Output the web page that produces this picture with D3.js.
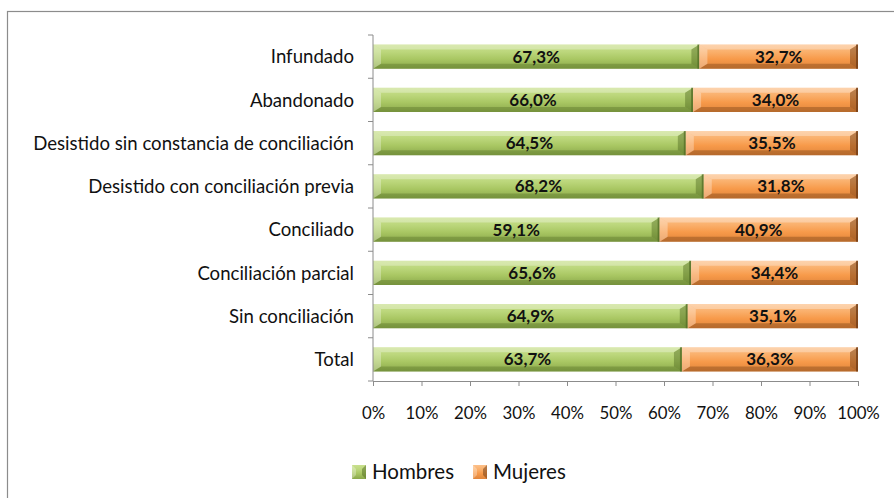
<!DOCTYPE html>
<html>
<head>
<meta charset="utf-8">
<script src="https://cdn.jsdelivr.net/npm/d3@7"></script>
<style>
  body { margin: 0; background: #fff; }
  svg { display: block; font-family: Lato, "Open Sans", sans-serif; }
</style>
</head>
<body>
<div id="chart"></div>
<script>
// data
const categories = ['Infundado', 'Abandonado', 'Desistido sin constancia de conciliación',
  'Desistido con conciliación previa', 'Conciliado', 'Conciliación parcial', 'Sin conciliación', 'Total'];
const hombres = [67.3, 66.0, 64.5, 68.2, 59.1, 65.6, 64.9, 63.7];
const mujeres = [32.7, 34.0, 35.5, 31.8, 40.9, 34.4, 35.1, 36.3];
const seriesNames = ['Hombres', 'Mujeres'];
const xTicks = [0, 10, 20, 30, 40, 50, 60, 70, 80, 90, 100];

let width = 894;
let height = 498;
let plotLeft = 373, plotRight = 858, plotTop = 35, plotBottom = 381;

let svg = d3.select('#chart').append('svg')
  .attr('width', width)
  .attr('height', height);

// gradients for the bevelled look
let defs = svg.append('defs');
function grad(id, stops) {
  let g = defs.append('linearGradient').attr('id', id)
    .attr('x1', 0).attr('y1', 0).attr('x2', 0).attr('y2', 1);
  stops.forEach(s => g.append('stop').attr('offset', s[0]).attr('stop-color', s[1]));
}
grad('gGreen', [[0, '#c9e08e'], [0.3, '#bcd77c'], [0.6, '#a9c763'], [1, '#8aa84a']]);
grad('gOrange', [[0, '#fcc08a'], [0.3, '#fab06c'], [0.6, '#f79a4a'], [1, '#e0843a']]);

// outer border, cut by the window on right and bottom
svg.append('rect')
  .attr('x', 7.5).attr('y', 11.5)
  .attr('width', 1000).attr('height', 1000)
  .attr('fill', 'none').attr('stroke', '#8c8c8c').attr('stroke-width', 1.2);

let x = d3.scaleLinear().domain([0, 100]).range([plotLeft, plotRight]);
let y = d3.scaleBand().domain(categories).range([plotTop, plotBottom]).paddingInner(0.44).paddingOuter(0.22);
let yb = d3.scaleBand().domain(categories).range([plotTop, plotBottom]);

// bars
let rows = categories.map((c, i) => ({ cat: c, segs: [
  { name: seriesNames[0], x0: 0, x1: hombres[i], fill: 'url(#gGreen)', dark: '#4f6a22' },
  { name: seriesNames[1], x0: hombres[i], x1: hombres[i] + mujeres[i], fill: 'url(#gOrange)', dark: '#6b3812' }
]}));

let row = svg.selectAll('.row').data(rows).join('g')
  .attr('class', 'row')
  .attr('transform', d => `translate(0,${y(d.cat)})`);

let seg = row.selectAll('.seg').data(d => d.segs).join('g').attr('class', 'seg')
  .attr('transform', d => `translate(${x(d.x0)},0)`);
let bh = y.bandwidth();
let bv = 5, bhz = 8;

seg.append('rect')
  .attr('x', 0).attr('y', 0)
  .attr('width', d => x(d.x1) - x(d.x0)).attr('height', bh)
  .attr('fill', d => d.fill);

// bevel facets
function facet(fn, fill, op) {
  seg.append('path')
    .attr('d', d => fn(x(d.x1) - x(d.x0)))
    .attr('fill', typeof fill === 'function' ? fill : () => fill)
    .attr('opacity', op);
}
facet(w => `M0,0 L${w},0 L${w - bhz},${bv} L${bhz},${bv} Z`, '#ffffff', 0.3);
facet(w => `M0,${bh} L${w},${bh} L${w - bhz},${bh - bv} L${bhz},${bh - bv} Z`, d => d.dark, 0.35);
facet(w => `M0,0 L${bhz},${bv} L${bhz},${bh - bv} L0,${bh} Z`, '#ffffff', 0.3);
facet(w => `M${w},0 L${w - bhz},${bv} L${w - bhz},${bh - bv} L${w},${bh} Z`, d => d.dark, 0.45);
seg.append('rect')
  .attr('x', d => x(d.x1) - x(d.x0) - 2).attr('y', 0)
  .attr('width', 2).attr('height', bh)
  .attr('fill', d => d.dark).attr('opacity', 0.7);

seg.append('text')
  .attr('x', d => (x(d.x1) - x(d.x0)) / 2)
  .attr('y', bh / 2)
  .attr('dy', '0.36em')
  .attr('text-anchor', 'middle')
  .attr('font-weight', 'bold')
  .attr('font-size', 17)
  .attr('fill', '#111')
  .text(d => (d.x1 - d.x0).toFixed(1).replace('.', ',') + '%');

// y axis
let axisColor = '#8c8c8c';
svg.append('line')
  .attr('x1', plotLeft).attr('x2', plotLeft).attr('y1', plotTop).attr('y2', plotBottom)
  .attr('stroke', axisColor);
svg.selectAll('.ytick').data(categories.concat(['end'])).join('line')
  .attr('class', 'ytick')
  .attr('x1', plotLeft - 5).attr('x2', plotLeft)
  .attr('y1', (d, i) => i < categories.length ? yb(d) : plotBottom)
  .attr('y2', (d, i) => i < categories.length ? yb(d) : plotBottom)
  .attr('stroke', axisColor);

svg.selectAll('.ylab').data(categories).join('text')
  .attr('class', 'ylab')
  .attr('x', 354)
  .attr('y', d => yb(d) + yb.bandwidth() / 2)
  .attr('dy', '0.36em')
  .attr('text-anchor', 'end')
  .attr('font-size', 18.6)
  .attr('fill', '#111')
  .text(d => d);

// x axis
let xAxis = d3.axisBottom(x).tickValues(xTicks).tickSize(5).tickFormat(d => d + '%');
let gx = svg.append('g').attr('transform', `translate(0,${plotBottom})`).call(xAxis);
gx.select('.domain').attr('stroke', axisColor);
gx.selectAll('.tick line').attr('stroke', axisColor);
gx.selectAll('.tick text')
  .attr('y', 26)
  .attr('font-size', 16.8)
  .attr('font-family', 'Lato, "Open Sans", sans-serif')
  .attr('fill', '#111');

// legend
let legend = svg.append('g').attr('transform', 'translate(352,472)');
let legX = [0, 121];
let legFill = ['url(#gGreen)', 'url(#gOrange)'];
let legDark = ['#4f6a22', '#6b3812'];
seriesNames.forEach((n, i) => {
  let g = legend.append('g').attr('transform', `translate(${legX[i]},0)`);
  g.append('rect').attr('x', 0).attr('y', -7).attr('width', 14).attr('height', 14)
    .attr('fill', legFill[i]);
  g.append('path').attr('d', 'M0,-7 L4,-3 L4,3 L0,7 Z').attr('fill', '#fff').attr('opacity', 0.3);
  g.append('path').attr('d', 'M14,-7 L10,-3 L10,3 L14,7 Z').attr('fill', legDark[i]).attr('opacity', 0.5);
  g.append('text').attr('x', 20).attr('y', 0).attr('dy', '0.36em')
    .attr('font-size', 20.5).attr('fill', '#111').text(n);
});
</script>
</body>
</html>
